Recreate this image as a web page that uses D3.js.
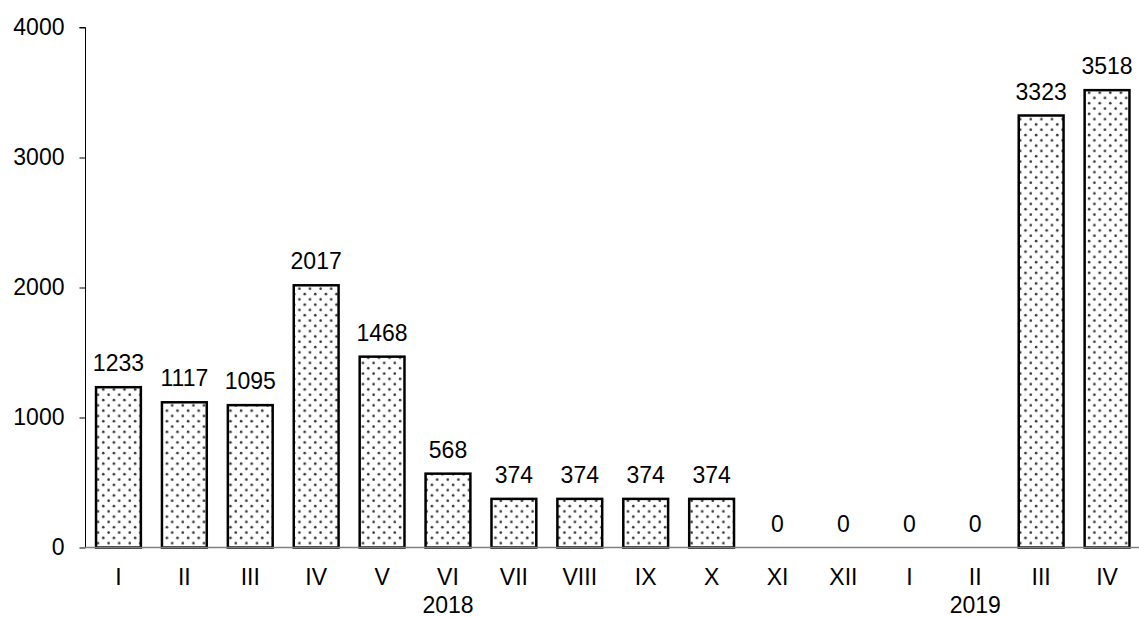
<!DOCTYPE html>
<html>
<head>
<meta charset="utf-8">
<script src="https://cdn.jsdelivr.net/npm/d3@7"></script>
<style>
  html, body { margin: 0; padding: 0; background: #fff; }
  svg { display: block; font-family: "Liberation Sans", Arial, sans-serif; }
</style>
</head>
<body>
<svg id="chart" width="1139" height="617"></svg>
<script>
// Monthly values, 2018 – 2019
const months = ["I", "II", "III", "IV", "V", "VI", "VII", "VIII", "IX", "X", "XI", "XII", "I", "II", "III", "IV"];
const values = [1233, 1117, 1095, 2017, 1468, 568, 374, 374, 374, 374, 0, 0, 0, 0, 3323, 3518];
const years = [{ year: "2018", at: 5 }, { year: "2019", at: 13 }];
const yTicks = [0, 1000, 2000, 3000, 4000];

const fontSize = 23;
const svg = d3.select("#chart");
const plotLeft = 85.5, plotRight = 1140, plotTop = 27.5, plotBottom = 547.5;

const x = d3.scaleBand()
  .domain(d3.range(months.length))
  .range([plotLeft, plotRight])
  .paddingInner(0.32)
  .paddingOuter(0.16);

const y = d3.scaleLinear().domain([0, 4000]).range([plotBottom, plotTop]);

// dotted fill for the bars
const defs = svg.append("defs");
const pat = defs.append("pattern")
  .attr("id", "dots")
  .attr("patternUnits", "userSpaceOnUse")
  .attr("width", 10.6).attr("height", 10.6);
pat.append("rect").attr("width", 10.6).attr("height", 10.6).attr("fill", "#fff");
pat.append("circle").attr("cx", 2.6).attr("cy", 2.6).attr("r", 1.3).attr("fill", "#333");
pat.append("circle").attr("cx", 7.9).attr("cy", 7.9).attr("r", 1.3).attr("fill", "#333");

// y axis
const yAxis = svg.append("g")
  .attr("transform", `translate(${plotLeft},0)`)
  .call(d3.axisLeft(y).tickValues(yTicks).tickSize(6).tickPadding(15).tickFormat(d3.format("d")));
yAxis.select(".domain").attr("stroke", "#000").attr("d", `M-6,${plotTop}H0V${plotBottom}`);
yAxis.selectAll(".tick line").attr("stroke", "#000");
yAxis.selectAll("text").attr("font-size", fontSize).attr("fill", "#000")
  .attr("font-family", "Liberation Sans, Arial, sans-serif");

// bars
svg.append("g").selectAll("rect")
  .data(values.map((v, i) => ({ v, i })).filter(d => d.v > 0))
  .join("rect")
  .attr("x", d => x(d.i))
  .attr("y", d => y(d.v))
  .attr("width", x.bandwidth())
  .attr("height", d => y(0) - y(d.v))
  .attr("fill", "url(#dots)")
  .attr("stroke", "#000")
  .attr("stroke-width", 2.5);

// x axis line
svg.append("line")
  .attr("x1", plotLeft).attr("x2", plotRight)
  .attr("y1", plotBottom).attr("y2", plotBottom)
  .attr("stroke", "#808080").attr("stroke-width", 1.5);

// value labels
svg.append("g").selectAll("text")
  .data(values.map((v, i) => ({ v, i })))
  .join("text")
  .attr("x", d => x(d.i) + x.bandwidth() / 2)
  .attr("y", d => y(d.v) - 16)
  .attr("text-anchor", "middle")
  .attr("font-size", fontSize)
  .attr("fill", "#000")
  .text(d => d.v);

// month labels
svg.append("g").selectAll("text")
  .data(months.map((m, i) => ({ m, i })))
  .join("text")
  .attr("x", d => x(d.i) + x.bandwidth() / 2)
  .attr("y", 585)
  .attr("text-anchor", "middle")
  .attr("font-size", fontSize)
  .attr("fill", "#000")
  .text(d => d.m);

// year labels
svg.append("g").selectAll("text")
  .data(years)
  .join("text")
  .attr("x", d => x(d.at) + x.bandwidth() / 2)
  .attr("y", 613)
  .attr("text-anchor", "middle")
  .attr("font-size", fontSize)
  .attr("fill", "#000")
  .text(d => d.year);
</script>
</body>
</html>
